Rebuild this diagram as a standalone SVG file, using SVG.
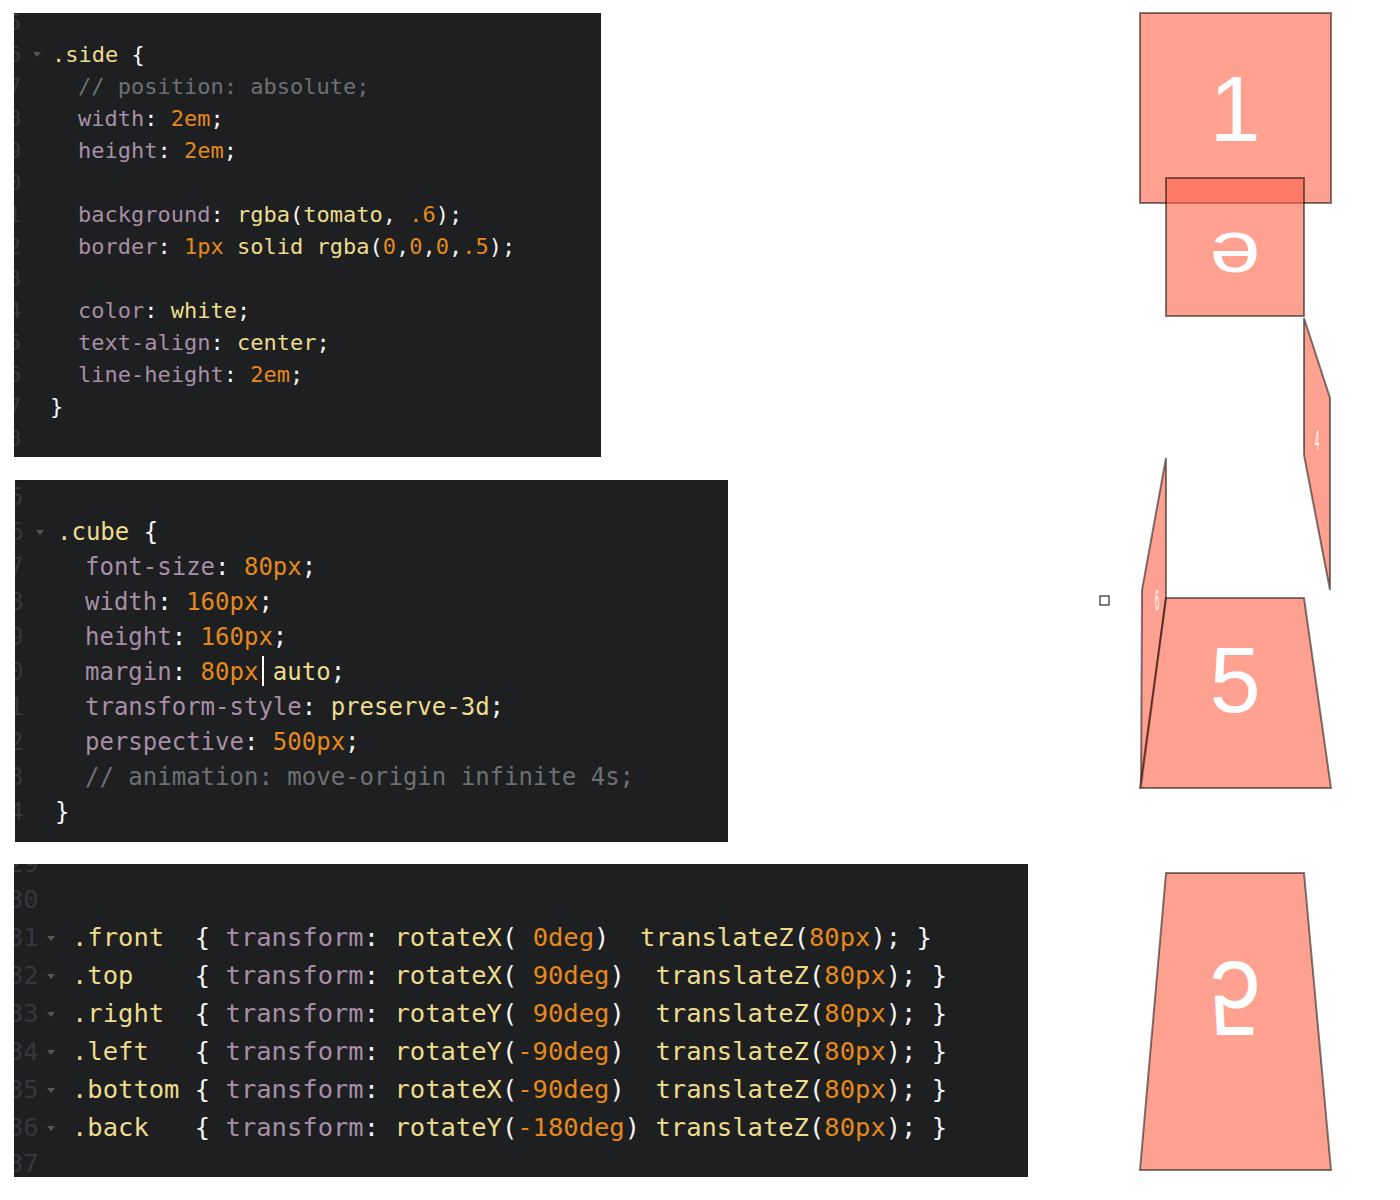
<svg xmlns="http://www.w3.org/2000/svg" width="1400" height="1200" viewBox="0 0 1400 1200" xml:space="preserve">
<style>
.panel{fill:#1d1f21}
.code{font-family:"DejaVu Sans Mono",monospace;white-space:pre}
.ln{fill:#35373b}
.p{fill:#a88ea6}.y{fill:#eedc8e}.o{fill:#e5891d}.c{fill:#6f7072}.w{fill:#f4f4f4}
.face{fill:#ff6347;fill-opacity:.6;stroke:#000;stroke-opacity:.5;stroke-width:2}
.lbl{font-family:"Liberation Sans",Arial,sans-serif;font-size:92px;fill:#fff;text-anchor:middle}
</style>
<defs>
<clipPath id="c1"><rect x="14" y="13" width="587" height="444"/></clipPath>
<clipPath id="c2"><rect x="15" y="480" width="713" height="362"/></clipPath>
<clipPath id="c3"><rect x="14" y="864" width="1014" height="313"/></clipPath>
</defs>
<rect width="1400" height="1200" fill="#fff"/>
<g id="panel-side">
<rect class="panel" x="14" y="13" width="587" height="444"/>
<g class="code" font-size="22">
<g clip-path="url(#c1)"><text x="8" class="ln" y="30">5</text><text x="8" class="ln" y="62">6</text><text x="8" class="ln" y="94">7</text><text x="8" class="ln" y="126">8</text><text x="8" class="ln" y="158">9</text><text x="8" class="ln" y="190">0</text><text x="8" class="ln" y="222">1</text><text x="8" class="ln" y="254">2</text><text x="8" class="ln" y="286">3</text><text x="8" class="ln" y="318">4</text><text x="8" class="ln" y="350">5</text><text x="8" class="ln" y="382">6</text><text x="8" class="ln" y="414">7</text><text x="8" class="ln" y="446">8</text></g>
<text x="52" y="62"><tspan class="y">.side</tspan><tspan class="w"> {</tspan></text>
<text x="78" y="94" class="c">// position: absolute;</text>
<text x="78" y="126"><tspan class="p">width</tspan><tspan class="w">: </tspan><tspan class="o">2em</tspan><tspan class="w">;</tspan></text>
<text x="78" y="158"><tspan class="p">height</tspan><tspan class="w">: </tspan><tspan class="o">2em</tspan><tspan class="w">;</tspan></text>
<text x="78" y="222"><tspan class="p">background</tspan><tspan class="w">: </tspan><tspan class="y">rgba</tspan><tspan class="w">(</tspan><tspan class="y">tomato</tspan><tspan class="w">, </tspan><tspan class="o">.6</tspan><tspan class="w">);</tspan></text>
<text x="78" y="254"><tspan class="p">border</tspan><tspan class="w">: </tspan><tspan class="o">1px</tspan><tspan class="y"> solid rgba</tspan><tspan class="w">(</tspan><tspan class="o">0</tspan><tspan class="w">,</tspan><tspan class="o">0</tspan><tspan class="w">,</tspan><tspan class="o">0</tspan><tspan class="w">,</tspan><tspan class="o">.5</tspan><tspan class="w">);</tspan></text>
<text x="78" y="318"><tspan class="p">color</tspan><tspan class="w">: </tspan><tspan class="y">white</tspan><tspan class="w">;</tspan></text>
<text x="78" y="350"><tspan class="p">text-align</tspan><tspan class="w">: </tspan><tspan class="y">center</tspan><tspan class="w">;</tspan></text>
<text x="78" y="382"><tspan class="p">line-height</tspan><tspan class="w">: </tspan><tspan class="o">2em</tspan><tspan class="w">;</tspan></text>
<text x="50" y="414" class="w">}</text>
</g>
<path d="M33 52 l8 0 l-4 5z" fill="#555"/>
</g>
<g id="panel-cube">
<rect class="panel" x="15" y="480" width="713" height="362"/>
<g class="code" font-size="24">
<g clip-path="url(#c2)"><text x="9" class="ln" y="505">5</text><text x="9" class="ln" y="540">6</text><text x="9" class="ln" y="575">7</text><text x="9" class="ln" y="610">8</text><text x="9" class="ln" y="645">9</text><text x="9" class="ln" y="680">0</text><text x="9" class="ln" y="715">1</text><text x="9" class="ln" y="750">2</text><text x="9" class="ln" y="785">3</text><text x="9" class="ln" y="820">4</text></g>
<text x="57" y="540"><tspan class="y">.cube</tspan><tspan class="w"> {</tspan></text>
<text x="85" y="575"><tspan class="p">font-size</tspan><tspan class="w">: </tspan><tspan class="o">80px</tspan><tspan class="w">;</tspan></text>
<text x="85" y="610"><tspan class="p">width</tspan><tspan class="w">: </tspan><tspan class="o">160px</tspan><tspan class="w">;</tspan></text>
<text x="85" y="645"><tspan class="p">height</tspan><tspan class="w">: </tspan><tspan class="o">160px</tspan><tspan class="w">;</tspan></text>
<text x="85" y="680"><tspan class="p">margin</tspan><tspan class="w">: </tspan><tspan class="o">80px</tspan><tspan class="y"> auto</tspan><tspan class="w">;</tspan></text>
<text x="85" y="715"><tspan class="p">transform-style</tspan><tspan class="w">: </tspan><tspan class="y">preserve-3d</tspan><tspan class="w">;</tspan></text>
<text x="85" y="750"><tspan class="p">perspective</tspan><tspan class="w">: </tspan><tspan class="o">500px</tspan><tspan class="w">;</tspan></text>
<text x="85" y="785" class="c">// animation: move-origin infinite 4s;</text>
<text x="55" y="820" class="w">}</text>
</g>
<rect x="262" y="656" width="2" height="30" fill="#fff"/>
<path d="M36 530 l8 0 l-4 5z" fill="#555"/>
</g>
<g id="panel-faces">
<rect class="panel" x="14" y="864" width="1014" height="313"/>
<g class="code" font-size="25.5">
<g clip-path="url(#c3)"><text x="8" class="ln" y="872">29</text><text x="8" class="ln" y="908">30</text><text x="8" class="ln" y="946">31</text><text x="8" class="ln" y="984">32</text><text x="8" class="ln" y="1022">33</text><text x="8" class="ln" y="1060">34</text><text x="8" class="ln" y="1098">35</text><text x="8" class="ln" y="1136">36</text><text x="8" class="ln" y="1172">37</text></g>
<text x="72" y="946"><tspan class="y">.front</tspan><tspan class="w">&#160; { </tspan><tspan class="p">transform</tspan><tspan class="w">: </tspan><tspan class="y">rotateX</tspan><tspan class="w">( </tspan><tspan class="o">0deg</tspan><tspan class="w">)&#160; </tspan><tspan class="y">translateZ</tspan><tspan class="w">(</tspan><tspan class="o">80px</tspan><tspan class="w">); }</tspan></text>
<text x="72" y="984"><tspan class="y">.top</tspan><tspan class="w">&#160;&#160;&#160; { </tspan><tspan class="p">transform</tspan><tspan class="w">: </tspan><tspan class="y">rotateX</tspan><tspan class="w">( </tspan><tspan class="o">90deg</tspan><tspan class="w">)&#160; </tspan><tspan class="y">translateZ</tspan><tspan class="w">(</tspan><tspan class="o">80px</tspan><tspan class="w">); }</tspan></text>
<text x="72" y="1022"><tspan class="y">.right</tspan><tspan class="w">&#160; { </tspan><tspan class="p">transform</tspan><tspan class="w">: </tspan><tspan class="y">rotateY</tspan><tspan class="w">( </tspan><tspan class="o">90deg</tspan><tspan class="w">)&#160; </tspan><tspan class="y">translateZ</tspan><tspan class="w">(</tspan><tspan class="o">80px</tspan><tspan class="w">); }</tspan></text>
<text x="72" y="1060"><tspan class="y">.left</tspan><tspan class="w">&#160;&#160; { </tspan><tspan class="p">transform</tspan><tspan class="w">: </tspan><tspan class="y">rotateY</tspan><tspan class="w">(</tspan><tspan class="o">-90deg</tspan><tspan class="w">)&#160; </tspan><tspan class="y">translateZ</tspan><tspan class="w">(</tspan><tspan class="o">80px</tspan><tspan class="w">); }</tspan></text>
<text x="72" y="1098"><tspan class="y">.bottom</tspan><tspan class="w"> { </tspan><tspan class="p">transform</tspan><tspan class="w">: </tspan><tspan class="y">rotateX</tspan><tspan class="w">(</tspan><tspan class="o">-90deg</tspan><tspan class="w">)&#160; </tspan><tspan class="y">translateZ</tspan><tspan class="w">(</tspan><tspan class="o">80px</tspan><tspan class="w">); }</tspan></text>
<text x="72" y="1136"><tspan class="y">.back</tspan><tspan class="w">&#160;&#160; { </tspan><tspan class="p">transform</tspan><tspan class="w">: </tspan><tspan class="y">rotateY</tspan><tspan class="w">(</tspan><tspan class="o">-180deg</tspan><tspan class="w">) </tspan><tspan class="y">translateZ</tspan><tspan class="w">(</tspan><tspan class="o">80px</tspan><tspan class="w">); }</tspan></text>
</g>
<g fill="#555"><path d="M47 936 l8 0 l-4 5z"/><path d="M47 974 l8 0 l-4 5z"/><path d="M47 1012 l8 0 l-4 5z"/><path d="M47 1050 l8 0 l-4 5z"/><path d="M47 1088 l8 0 l-4 5z"/><path d="M47 1126 l8 0 l-4 5z"/></g>
</g>
<g id="face-1">
<rect class="face" x="1140" y="13" width="191" height="190"/>
<text class="lbl" x="1235" y="141">1</text>
</g>
<g id="face-top">
<rect class="face" x="1166" y="178" width="138" height="138"/>
<text class="lbl" transform="translate(1235,272) scale(1,0.8)" x="0" y="0">ə</text>
</g>
<g id="face-right">
<polygon class="face" stroke-width="1" points="1304,318 1330,398 1330,590 1304,455"/>
<text x="1315" y="450" font-family="Liberation Sans,sans-serif" font-size="30" fill="#fff" transform="translate(1315,430) scale(0.25,1) translate(-1315,-430)">4</text>
</g>
<g id="face-left">
<polygon class="face" stroke-width="1" points="1166,458 1166,598 1141,788 1142,590"/>
<text x="1155" y="610" font-family="Liberation Sans,sans-serif" font-size="30" fill="#fff" transform="translate(1155,600) scale(0.25,1) translate(-1155,-600)">6</text>
</g>
<g id="face-5">
<polygon class="face" points="1166,598 1304,598 1331,788 1140,788"/>
<text class="lbl" x="1235" y="712">5</text>
</g>
<g id="face-bottom">
<polygon class="face" points="1166,873 1304,873 1331,1170 1140,1170"/>
<text class="lbl" transform="translate(1235,1000) scale(1,-1.15)" x="0" y="33">5</text>
</g>
<rect x="1100" y="596" width="9" height="9" fill="#fff" stroke="#000" stroke-width="1"/>
</svg>
